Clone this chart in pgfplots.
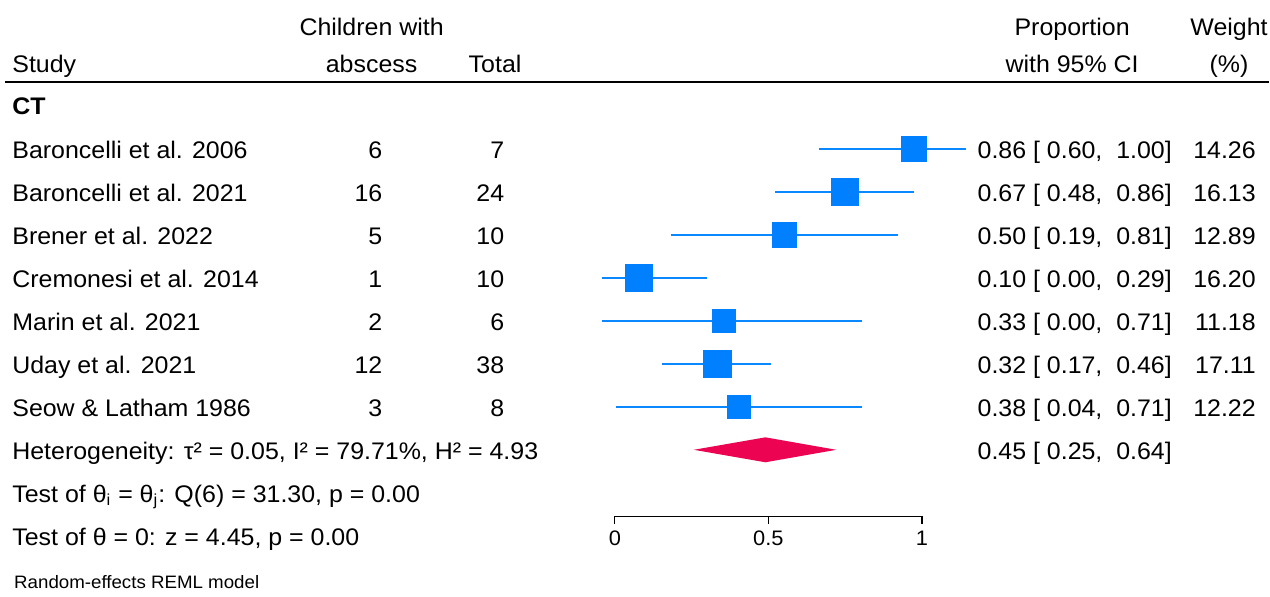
\documentclass[border=0pt]{standalone}
\usepackage{pgfplots}
\pgfplotsset{compat=1.18}
\usepackage{pgfplotstable}
\usepackage{fontspec}
\setmainfont{Liberation Sans}[FakeStretch=1.04]
\definecolor{sqblue}{RGB}{0,128,255}
\definecolor{ciblue}{RGB}{10,136,255}
\definecolor{dmred}{RGB}{236,4,82}

\pgfplotstableread{
row est lo hi ms
1 0.974 0.664 1.145 6.33
2 0.748 0.522 0.973 6.67
3 0.551 0.182 0.921 6.10
4 0.077 -0.043 0.300 6.67
5 0.354 -0.043 0.804 5.67
6 0.333 0.155 0.510 6.92
7 0.404 0.003 0.804 5.83
}\studies

\newcommand{\studyrow}[6]{%
  \node[anchor=base west] at (axis cs:-1.963,#1+0.22) {#2};
  \node[anchor=base east] at (axis cs:-0.756,#1+0.22) {#3};
  \node[anchor=base east] at (axis cs:-0.359,#1+0.22) {#4};
  \node[anchor=base west] at (axis cs:1.180,#1+0.22) {#5};
  \node[anchor=base east] at (axis cs:2.088,#1+0.22) {#6};
}

\begin{document}
\begin{tikzpicture}[font=\fontsize{12}{14}\selectfont, every node/.append style={inner sep=0pt}]
\begin{axis}[
  width=635pt, height=298.5pt, scale only axis,
  xmin=-2.002, xmax=2.130, ymin=-2.454, ymax=11.41, y dir=reverse,
  hide axis, clip=false,
]
\path (rel axis cs:0,0) rectangle (rel axis cs:1,1);
% CI lines
\addplot[ciblue, line width=1pt, forget plot] coordinates {(0.664,1) (1.145,1)};
\addplot[ciblue, line width=1pt, forget plot] coordinates {(0.522,2) (0.973,2)};
\addplot[ciblue, line width=1pt, forget plot] coordinates {(0.182,3) (0.921,3)};
\addplot[ciblue, line width=1pt, forget plot] coordinates {(-0.043,4) (0.300,4)};
\addplot[ciblue, line width=1pt, forget plot] coordinates {(-0.043,5) (0.804,5)};
\addplot[ciblue, line width=1pt, forget plot] coordinates {(0.155,6) (0.510,6)};
\addplot[ciblue, line width=1pt, forget plot] coordinates {(0.003,7) (0.804,7)};
% squares
\addplot[scatter, only marks, mark=square*,
  scatter/use mapped color={draw=sqblue, fill=sqblue},
  mark options={line width=0.2pt},
  visualization depends on={\thisrow{ms} \as \msz},
  scatter/@pre marker code/.append style={/tikz/mark size=\msz}]
  table[x=est, y=row] {\studies};
% diamond
\addplot[fill=dmred, draw=none] coordinates {(0.257,8) (0.490,7.71) (0.721,8) (0.490,8.29)} -- cycle;

% x axis
\draw[line width=0.6pt] (axis cs:0,9.548) -- (axis cs:1,9.548);
\draw[line width=0.6pt] (axis cs:0,9.548) -- (axis cs:0,9.717);
\draw[line width=0.6pt] (axis cs:0.5,9.548) -- (axis cs:0.5,9.717);
\draw[line width=0.6pt] (axis cs:1,9.548) -- (axis cs:1,9.717);
\node[anchor=base, font=\fontsize{10.5}{12}\selectfont] at (axis cs:0,10.23) {0};
\node[anchor=base, font=\fontsize{10.5}{12}\selectfont] at (axis cs:0.5,10.23) {0.5};
\node[anchor=base, font=\fontsize{10.5}{12}\selectfont] at (axis cs:1,10.23) {1};

% header
\node[anchor=base] at (axis cs:-0.792,-1.63) {Children with};
\node[anchor=base] at (axis cs:-0.792,-0.77) {abscess};
\node[anchor=base west] at (axis cs:-1.963,-0.77) {Study};
\node[anchor=base] at (axis cs:-0.390,-0.77) {Total};
\node[anchor=base] at (axis cs:1.489,-1.63) {Proportion};
\node[anchor=base] at (axis cs:1.489,-0.77) {with 95\% CI};
\node[anchor=base] at (axis cs:2.000,-1.63) {Weight};
\node[anchor=base] at (axis cs:2.000,-0.77) {(\%)};
\draw[line width=1pt] (axis cs:-1.986,-0.549) -- (axis cs:2.130,-0.549);
\node[anchor=base west] at (axis cs:-1.963,0.2) {\bfseries CT};

% rows
\studyrow{1}{Baroncelli et al. 2006}{6}{7}{0.86 [\ 0.60,\ \ 1.00]}{14.26}
\studyrow{2}{Baroncelli et al. 2021}{16}{24}{0.67 [\ 0.48,\ \ 0.86]}{16.13}
\studyrow{3}{Brener et al. 2022}{5}{10}{0.50 [\ 0.19,\ \ 0.81]}{12.89}
\studyrow{4}{Cremonesi et al. 2014}{1}{10}{0.10 [\ 0.00,\ \ 0.29]}{16.20}
\studyrow{5}{Marin et al. 2021}{2}{6}{0.33 [\ 0.00,\ \ 0.71]}{11.18}
\studyrow{6}{Uday et al. 2021}{12}{38}{0.32 [\ 0.17,\ \ 0.46]}{17.11}
\studyrow{7}{Seow \& Latham 1986}{3}{8}{0.38 [\ 0.04,\ \ 0.71]}{12.22}

\node[anchor=base west] at (axis cs:1.180,8.22) {0.45 [\ 0.25,\ \ 0.64]};
\node[anchor=base west] at (axis cs:-1.963,8.22) {Heterogeneity: τ² = 0.05, I² = 79.71\%, H² = 4.93};
\node[anchor=base west] at (axis cs:-1.963,9.22) {Test of θ\textsubscript{i} = θ\textsubscript{j}: Q(6) = 31.30, p = 0.00};
\node[anchor=base west] at (axis cs:-1.963,10.22) {Test of θ = 0: z = 4.45, p = 0.00};
\node[anchor=base west, font=\fontsize{9}{11}\selectfont] at (axis cs:-1.957,11.22) {Random-effects REML model};
\end{axis}
\end{tikzpicture}
\end{document}
